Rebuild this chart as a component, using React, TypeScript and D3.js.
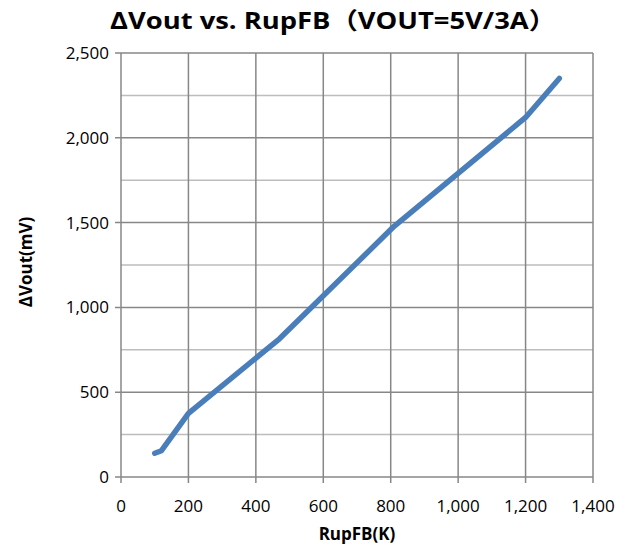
import React from "react";
import * as d3 from "d3";

const rupFB = [100, 120, 200, 470, 810, 1200, 1300];
const deltaVout = [140, 155, 375, 815, 1478, 2120, 2350];
const xTicks = [0, 200, 400, 600, 800, 1000, 1200, 1400];
const yTicks = [0, 500, 1000, 1500, 2000, 2500];
const yMinor = [250, 750, 1250, 1750, 2250];

const W = 627;
const H = 551;
const margin = { left: 121, right: 34, top: 53, bottom: 74 };

export default function App() {
  const x = d3.scaleLinear().domain([0, 1400]).range([margin.left, W - margin.right]);
  const y = d3.scaleLinear().domain([0, 2500]).range([H - margin.bottom, margin.top]);
  const fmt = d3.format(",");
  const pts: [number, number][] = rupFB.map((v, i) => [v, deltaVout[i]]);
  const line = d3.line<[number, number]>().x(d => x(d[0])).y(d => y(d[1]));
  const font = "Open Sans, Noto Sans, sans-serif";
  const cjk = "Noto Sans CJK SC, sans-serif";

  return (
    <svg width={W} height={H} style={{ position: "absolute", left: 0, top: 0 }}>
      <rect width={W} height={H} fill="white" />
      <text x={110} y={29} textLength={446} lengthAdjust="spacingAndGlyphs" fontFamily={font} fontWeight="bold" fontSize={23.5} fill="#000">
        ΔVout vs. RupFB<tspan fontFamily={cjk}>（</tspan>VOUT=5V/3A<tspan fontFamily={cjk}>）</tspan>
      </text>
      {yMinor.map(t => (
        <line key={"m" + t} x1={x(0)} x2={x(1400)} y1={y(t)} y2={y(t)} stroke="#bdbdbd" strokeWidth={1.5} />
      ))}
      {yTicks.map(t => (
        <line key={"y" + t} x1={x(0) - 6} x2={x(1400)} y1={y(t)} y2={y(t)} stroke="#878787" strokeWidth={1.5} />
      ))}
      {xTicks.map(t => (
        <line key={"x" + t} x1={x(t)} x2={x(t)} y1={y(2500)} y2={y(0) + 6} stroke="#878787" strokeWidth={1.5} />
      ))}
      {yTicks.map(t => (
        <text key={"yl" + t} x={x(0) - 12} y={y(t) + 6} textAnchor="end" fontFamily={font} fontSize={17} fill="#000">
          {fmt(t)}
        </text>
      ))}
      {xTicks.map(t => (
        <text key={"xl" + t} x={x(t)} y={y(0) + 35} textAnchor="middle" fontFamily={font} fontSize={17} fill="#000">
          {fmt(t)}
        </text>
      ))}
      <path d={line(pts) || ""} fill="none" stroke="#4a7ebb" strokeWidth={5.5} strokeLinecap="round" strokeLinejoin="round" />
      <text x={357} y={540} textAnchor="middle" fontFamily={font} fontWeight="bold" fontSize={17} fill="#000">
        RupFB(K)
      </text>
      <text transform={`translate(32,262) rotate(-90)`} textAnchor="middle" fontFamily={font} fontWeight="bold" fontSize={17} fill="#000">
        ΔVout(mV)
      </text>
    </svg>
  );
}
